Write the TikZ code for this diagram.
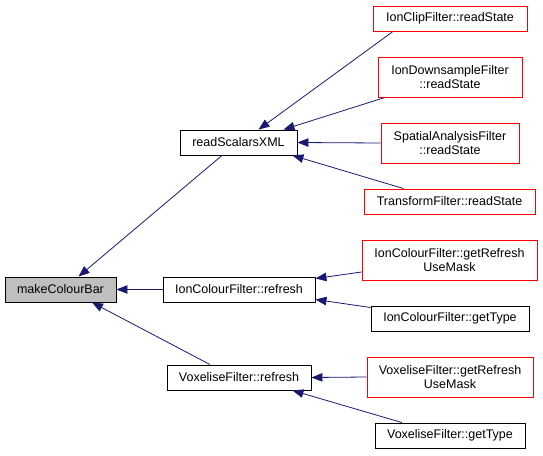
\documentclass[tikz,border=0pt]{standalone}
\usepackage{fontspec}
\setmainfont{Liberation Sans}
\usetikzlibrary{arrows.meta}
\definecolor{edgeblue}{HTML}{191970}
\definecolor{nodegray}{HTML}{BFBFBF}
\begin{document}
\begin{tikzpicture}[x=1pt,y=-1pt,
  box/.style={draw=black,fill=white,rectangle,inner sep=0pt,line width=0.9pt,font=\fontsize{12.5}{14}\selectfont,align=center},
  redbox/.style={box,draw=red},
  graybox/.style={box,fill=nodegray},
  edge/.style={draw=edgeblue,line width=0.8pt,-{Triangle[length=11pt,width=8.5pt]}}]
\useasboundingbox (0,0) rectangle (543,455);
\node[graybox,minimum width=111pt,minimum height=25pt] (mcb) at (60.5,289.5) {makeColourBar};
\node[box,minimum width=117pt,minimum height=25pt] (rsx) at (238.5,142.5) {readScalarsXML};
\node[box,minimum width=152pt,minimum height=25pt] (icr) at (239,289.5) {IonColourFilter::refresh};
\node[box,minimum width=144pt,minimum height=25pt] (vfr) at (239,377.5) {VoxeliseFilter::refresh};
\node[redbox,minimum width=154pt,minimum height=25pt] (clip) at (450,18.5) {IonClipFilter::readState};
\node[redbox,minimum width=144pt,minimum height=40pt] (ids) at (450,77) {IonDownsampleFilter\\::readState};
\node[redbox,minimum width=138pt,minimum height=40pt] (saf) at (450,143) {SpatialAnalysisFilter\\::readState};
\node[redbox,minimum width=171pt,minimum height=25pt] (tf) at (449.5,201.5) {TransformFilter::readState};
\node[redbox,minimum width=175pt,minimum height=40pt] (icgr) at (449.5,260) {IonColourFilter::getRefresh\\UseMask};
\node[box,minimum width=158pt,minimum height=25pt] (icgt) at (450,318.5) {IonColourFilter::getType};
\node[redbox,minimum width=166pt,minimum height=40pt] (vgr) at (450,377) {VoxeliseFilter::getRefresh\\UseMask};
\node[box,minimum width=150pt,minimum height=25pt] (vgt) at (450,435.5) {VoxeliseFilter::getType};
\draw[edge] ([xshift=-16.5pt]rsx.south) -- ([xshift=18pt]mcb.north);
\draw[edge] (icr.west) -- (mcb.east);
\draw[edge] ([xshift=-29pt]vfr.north) -- ([xshift=31.5pt]mcb.south);
\draw[edge] ([xshift=-57pt]clip.south) -- ([xshift=20pt]rsx.north);
\draw[edge] ([xshift=-65pt]ids.south) -- ([xshift=45pt]rsx.north);
\draw[edge] (saf.west) -- (rsx.east);
\draw[edge] ([xshift=-46pt]tf.north) -- ([xshift=-5pt]rsx.south east);
\draw[edge] ([yshift=-12pt]icgr.west) -- ([yshift=11pt]icr.east);
\draw[edge] ([yshift=11pt]icgt.west) -- ([yshift=-10pt]icr.east);
\draw[edge] (vgr.west) -- (vfr.east);
\draw[edge] ([xshift=-48pt]vgt.north) -- ([xshift=-19pt]vfr.south east);
\end{tikzpicture}
\end{document}
